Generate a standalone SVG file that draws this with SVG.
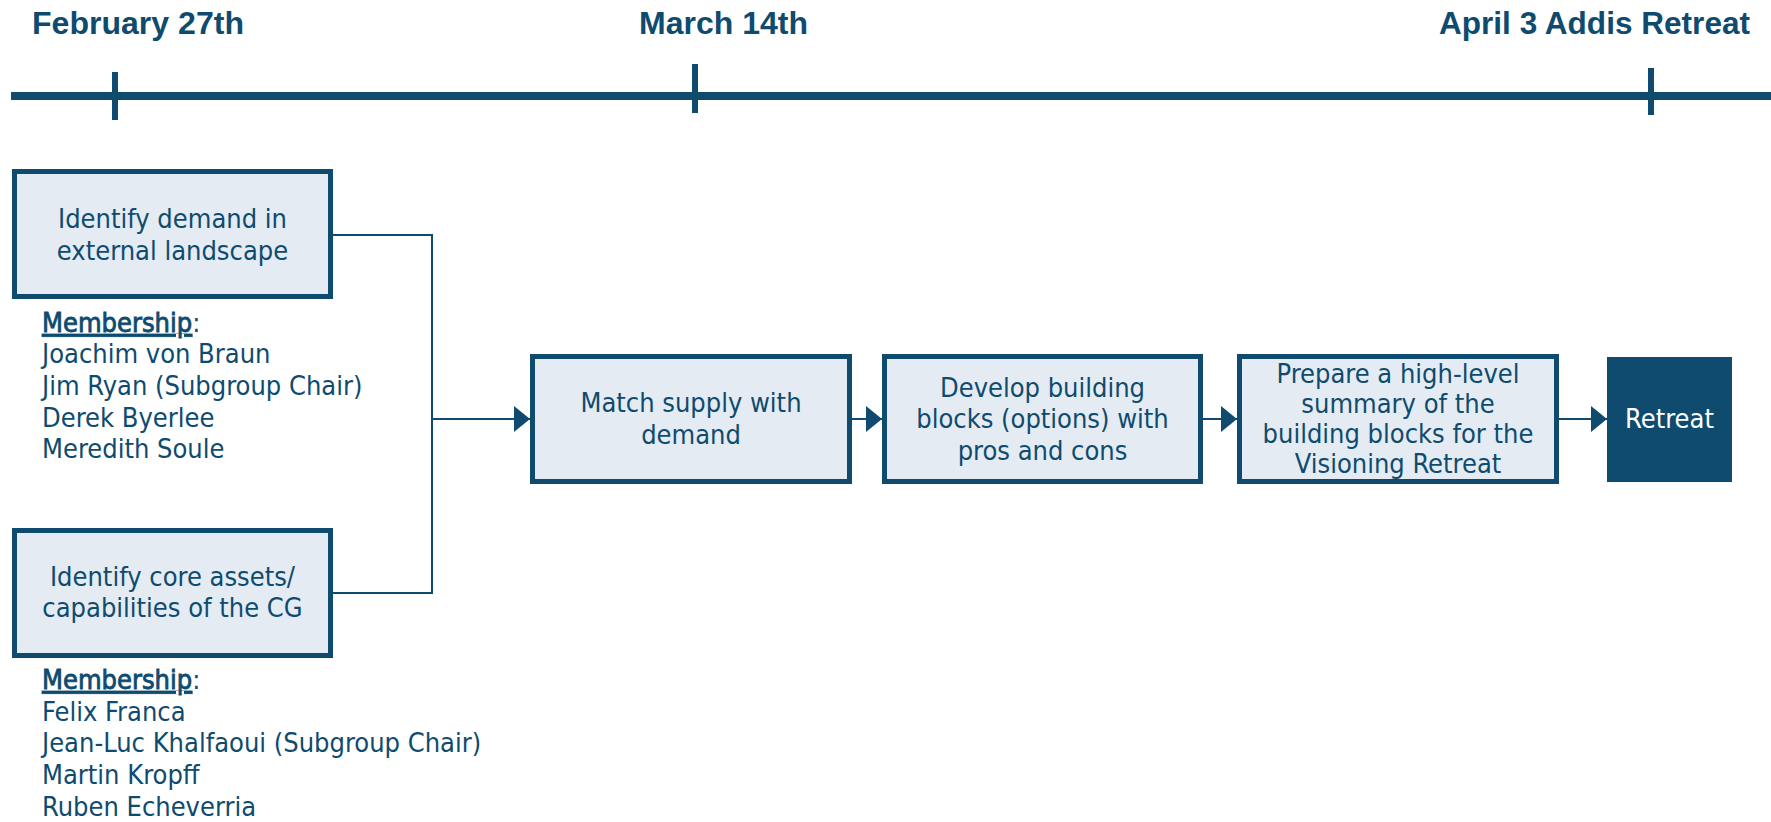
<svg xmlns="http://www.w3.org/2000/svg" width="1771" height="822" viewBox="0 0 1771 822">
  <style>
    .date { font-family: "Liberation Sans", Arial, sans-serif; font-weight: bold; font-size: 31px; fill: #0E4B6F; }
    .axis { stroke: #0E4B6F; fill: none; }
    .box { fill: #E4EBF3; stroke: #0E4B6F; stroke-width: 5; }
    .dark { fill: #0E4B6F; }
    .lbl { font-family: "DejaVu Sans Condensed", "DejaVu Sans", sans-serif; font-stretch: condensed; font-size: 27px; fill: #0E4B6F; text-anchor: middle; }
    .white { fill: #FFFFFF; }
    .members { font-family: "DejaVu Sans Condensed", "DejaVu Sans", sans-serif; font-stretch: condensed; font-size: 27px; fill: #0E4B6F; }
    .head { stroke: #0E4B6F; stroke-width: 0.8; text-decoration: underline; }
    .wire { stroke: #0E4B6F; stroke-width: 2; fill: none; }
  </style>
  <defs>
    <marker id="arrow" markerWidth="16" markerHeight="26" refX="16" refY="13" orient="auto" markerUnits="userSpaceOnUse">
      <path d="M0,0 L16,13 L0,26 Z" fill="#0E4B6F"/>
    </marker>
  </defs>

  <rect width="1771" height="822" fill="#FFFFFF"/>

  <!-- timeline -->
  <g id="timeline">
    <line class="axis" x1="11" y1="96" x2="1771" y2="96" stroke-width="8"/>
    <line class="axis" x1="115" y1="72" x2="115" y2="120" stroke-width="6"/>
    <line class="axis" x1="695" y1="64" x2="695" y2="113" stroke-width="6"/>
    <line class="axis" x1="1651" y1="68" x2="1651" y2="115" stroke-width="6"/>
    <text class="date" x="32" y="34" textLength="212" lengthAdjust="spacingAndGlyphs">February 27th</text>
    <text class="date" x="639" y="34" textLength="169" lengthAdjust="spacingAndGlyphs">March 14th</text>
    <text class="date" x="1439" y="34" textLength="311" lengthAdjust="spacingAndGlyphs">April 3 Addis Retreat</text>
  </g>

  <!-- connectors -->
  <g id="connectors">
    <polyline class="wire" points="333,235 432,235 432,593 333,593"/>
    <line class="wire" x1="432" y1="419" x2="530" y2="419" marker-end="url(#arrow)"/>
    <line class="wire" x1="852" y1="419" x2="882" y2="419" marker-end="url(#arrow)"/>
    <line class="wire" x1="1203" y1="419" x2="1237" y2="419" marker-end="url(#arrow)"/>
    <line class="wire" x1="1559" y1="419" x2="1607" y2="419" marker-end="url(#arrow)"/>
  </g>

  <!-- demand subgroup -->
  <g id="node-demand">
    <rect class="box" x="14.5" y="171.5" width="316" height="125"/>
    <text class="lbl" x="172.5" y="228">Identify demand in</text>
    <text class="lbl" x="172.5" y="260">external landscape</text>
  </g>
  <g id="members-demand">
    <text class="members" x="42" y="332"><tspan class="head">Membership</tspan>:</text>
    <text class="members" x="42" y="363">Joachim von Braun</text>
    <text class="members" x="42" y="395">Jim Ryan (Subgroup Chair)</text>
    <text class="members" x="42" y="427">Derek Byerlee</text>
    <text class="members" x="42" y="458">Meredith Soule</text>
  </g>

  <!-- core assets subgroup -->
  <g id="node-assets">
    <rect class="box" x="14.5" y="530.5" width="316" height="125"/>
    <text class="lbl" x="172.5" y="586">Identify core assets/</text>
    <text class="lbl" x="172.5" y="617">capabilities of the CG</text>
  </g>
  <g id="members-assets">
    <text class="members" x="42" y="689"><tspan class="head">Membership</tspan>:</text>
    <text class="members" x="42" y="721">Felix Franca</text>
    <text class="members" x="42" y="752">Jean-Luc Khalfaoui (Subgroup Chair)</text>
    <text class="members" x="42" y="784">Martin Kropff</text>
    <text class="members" x="42" y="816">Ruben Echeverria</text>
  </g>

  <!-- process steps -->
  <g id="node-match">
    <rect class="box" x="532.5" y="356.5" width="317" height="125"/>
    <text class="lbl" x="691" y="412">Match supply with</text>
    <text class="lbl" x="691" y="444">demand</text>
  </g>
  <g id="node-develop">
    <rect class="box" x="884.5" y="356.5" width="316" height="125"/>
    <text class="lbl" x="1042.5" y="397">Develop building</text>
    <text class="lbl" x="1042.5" y="428">blocks (options) with</text>
    <text class="lbl" x="1042.5" y="460">pros and cons</text>
  </g>
  <g id="node-prepare">
    <rect class="box" x="1239.5" y="356.5" width="317" height="125"/>
    <text class="lbl" x="1398" y="383">Prepare a high-level</text>
    <text class="lbl" x="1398" y="413">summary of the</text>
    <text class="lbl" x="1398" y="443">building blocks for the</text>
    <text class="lbl" x="1398" y="473">Visioning Retreat</text>
  </g>
  <g id="node-retreat">
    <rect class="dark" x="1607" y="357" width="125" height="125"/>
    <text class="lbl white" x="1669.5" y="428">Retreat</text>
  </g>
</svg>
